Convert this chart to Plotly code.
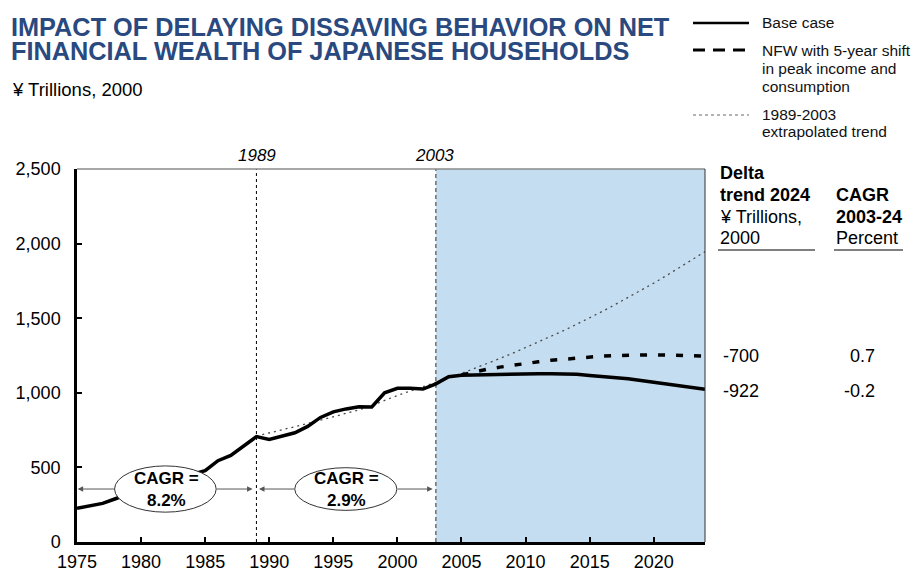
import plotly.graph_objects as go

# ---------------- data ----------------
base_years = list(range(1975, 2025))
base_values = [226, 243, 259, 290, 325, 355, 385, 410, 435, 455,
               478, 545, 580, 645, 706, 688, 708, 732, 775, 835,
               872, 892, 906, 905, 1000, 1030, 1030, 1025, 1060, 1108,
               1118, 1120, 1122, 1127, 1128, 1128, 1128, 1128, 1128, 1125,
               1116, 1110, 1104, 1094, 1082, 1070, 1058, 1046, 1036, 1024]

shift_years = list(range(2005, 2025))
shift_values = [1120, 1140, 1158, 1172, 1185, 1195, 1208, 1218, 1226, 1232,
                1240, 1246, 1250, 1253, 1254, 1254, 1253, 1251, 1248, 1246]

trend_years = list(range(1989, 2025))
trend_values = [710, 730, 750, 772, 794, 817, 840, 860, 885, 915,
                950, 982, 1012, 1040, 1068, 1100, 1130, 1162, 1196, 1230,
                1265, 1302, 1340, 1378, 1418, 1460, 1502, 1546, 1592, 1638,
                1686, 1735, 1786, 1838, 1892, 1946]

series_names = ["Base case",
                "NFW with 5-year shift in peak income and consumption",
                "1989-2003 extrapolated trend"]
legend_lines = [["Base case"],
                ["NFW with 5-year shift", "in peak income and", "consumption"],
                ["1989-2003", "extrapolated trend"]]

x_ticks = [1975, 1980, 1985, 1990, 1995, 2000, 2005, 2010, 2015, 2020]
y_ticks = [0, 500, 1000, 1500, 2000, 2500]

marker_years = [1989, 2003]
cagr_labels = ["8.2%", "2.9%"]
delta_2024 = ["-700", "-922"]
cagr_2003_24 = ["0.7", "-0.2"]

# ---------------- geometry helpers ----------------
W, H = 914, 571
L, R, T, B = 77, 705, 169, 542   # plot area in pixels


def px(x):
    return (x - L) / (R - L)


def py(y):
    return (B - y) / (B - T)


FONT = "Liberation Sans, Arial, Helvetica, sans-serif"
TITLE_COLOR = "#29497F"

fig = go.Figure()

fig.add_trace(go.Scatter(x=trend_years, y=trend_values, mode="lines",
                         name=series_names[2], hoverinfo="skip",
                         line=dict(color="#4a4a4a", width=1.3, dash="2px,4px")))
fig.add_trace(go.Scatter(x=shift_years, y=shift_values, mode="lines",
                         name=series_names[1], hoverinfo="skip",
                         line=dict(color="black", width=3.5, dash="7px,11px")))
fig.add_trace(go.Scatter(x=base_years, y=base_values, mode="lines",
                         name=series_names[0], hoverinfo="skip",
                         line=dict(color="black", width=3.5)))

shapes = []
# shaded projection region
shapes.append(dict(type="rect", xref="x", yref="y", x0=2003, x1=2024, y0=0, y1=2500,
                   fillcolor="#C4DDF0", line=dict(width=0), layer="below"))
# vertical markers
shapes.append(dict(type="line", xref="x", yref="y", x0=marker_years[0], x1=marker_years[0],
                   y0=0, y1=2500, line=dict(color="black", width=1, dash="3px,3px"),
                   layer="below"))
shapes.append(dict(type="line", xref="x", yref="y", x0=marker_years[1], x1=marker_years[1],
                   y0=0, y1=2500, line=dict(color="#777777", width=1.6, dash="4px,3px"),
                   layer="below"))
# frame top and right
shapes.append(dict(type="line", xref="paper", yref="paper", x0=0, x1=1, y0=1, y1=1,
                   line=dict(color="#8a8a8a", width=1.5), layer="above"))
shapes.append(dict(type="line", xref="paper", yref="paper", x0=1, x1=1, y0=0, y1=1,
                   line=dict(color="#333333", width=1), layer="above"))

# CAGR ellipses
ellipses = [(1977.93, 1985.86, 200, 510), (1991.99, 1999.96, 212, 498)]
for (x0, x1, y0, y1) in ellipses:
    shapes.append(dict(type="circle", xref="x", yref="y", x0=x0, x1=x1, y0=y0, y1=y1,
                       fillcolor="white", line=dict(color="#333333", width=1),
                       layer="above"))

# legend samples
leg_y = [23, 50, 115]
shapes.append(dict(type="line", xref="paper", yref="paper", x0=px(693), x1=px(749),
                   y0=py(leg_y[0]), y1=py(leg_y[0]), line=dict(color="black", width=2.5)))
shapes.append(dict(type="line", xref="paper", yref="paper", x0=px(693), x1=px(749),
                   y0=py(leg_y[1]), y1=py(leg_y[1]),
                   line=dict(color="black", width=3, dash="12px,8px")))
shapes.append(dict(type="line", xref="paper", yref="paper", x0=px(693), x1=px(749),
                   y0=py(leg_y[2]), y1=py(leg_y[2]),
                   line=dict(color="#666666", width=1, dash="3px,3px")))

# table underlines
shapes.append(dict(type="line", xref="paper", yref="paper", x0=px(718), x1=px(815),
                   y0=py(250), y1=py(250), line=dict(color="black", width=1)))
shapes.append(dict(type="line", xref="paper", yref="paper", x0=px(834), x1=px(903),
                   y0=py(250), y1=py(250), line=dict(color="black", width=1)))

annotations = []


def text(x, y, s, size, color="black", xanchor="left", bold=False, italic=False):
    if bold:
        s = "<b>" + s + "</b>"
    if italic:
        s = "<i>" + s + "</i>"
    annotations.append(dict(xref="paper", yref="paper", x=px(x), y=py(y), text=s,
                            showarrow=False, xanchor=xanchor, yanchor="middle",
                            font=dict(family=FONT, size=size, color=color)))


# title & subtitle
text(9, 27, "IMPACT OF DELAYING DISSAVING BEHAVIOR ON NET", 25.3, TITLE_COLOR, bold=True)
text(9, 51, "FINANCIAL WEALTH OF JAPANESE HOUSEHOLDS", 25.3, TITLE_COLOR, bold=True)
text(10, 89, "¥ Trillions, 2000", 18.5)

# legend texts
leg_text_y = [[23], [50, 68, 86], [115, 132]]
for lines, ys in zip(legend_lines, leg_text_y):
    for s, yy in zip(lines, ys):
        text(760, yy, s, 15.5, "#111111")

# marker year labels
text(256.5, 155, str(marker_years[0]), 17, xanchor="center", italic=True)
text(434.5, 155, str(marker_years[1]), 17, xanchor="center", italic=True)

# table header
text(718, 173, "Delta", 18, bold=True)
text(718, 195, "trend 2024", 18, bold=True)
text(718, 217, "¥ Trillions,", 18)
text(718, 238, "2000", 18)
text(834, 195, "CAGR", 18, bold=True)
text(834, 217, "2003-24", 18, bold=True)
text(834, 238, "Percent", 18)
for v, yy in zip(delta_2024, [355.5, 390.5]):
    text(721, yy, v, 18)
for v, yy in zip(cagr_2003_24, [355.5, 390.5]):
    text(877, yy, v, 18, xanchor="right")

# CAGR arrows (data coordinates)
arrow_y = 355
arrow_segments = [(1978.0, 1975.05), (1985.8, 1988.7), (1992.05, 1989.2), (1999.9, 2002.75)]
for tail, tip in arrow_segments:
    annotations.append(dict(xref="x", yref="y", axref="x", ayref="y",
                            x=tip, y=arrow_y, ax=tail, ay=arrow_y, text="",
                            showarrow=True, arrowhead=2, arrowsize=1.1,
                            arrowwidth=1, arrowcolor="#555555", standoff=0))

# CAGR texts in ellipses
for cx, lab in zip([1981.95, 1996.0], cagr_labels):
    annotations.append(dict(xref="x", yref="y", x=cx, y=352, showarrow=False,
                            text="<b>CAGR =</b><br><b>" + lab + "</b>",
                            xanchor="center", yanchor="middle",
                            font=dict(family=FONT, size=17, color="black")))

fig.update_layout(
    width=W, height=H,
    margin=dict(l=L, r=W - R, t=T, b=H - B, pad=0, autoexpand=False),
    paper_bgcolor="white", plot_bgcolor="white",
    showlegend=False,
    hovermode=False,
    shapes=shapes,
    annotations=annotations,
    font=dict(family=FONT, size=18, color="black"),
)
fig.update_xaxes(range=[1975, 2024], tickvals=x_ticks, ticktext=[str(v) for v in x_ticks],
                 showgrid=False, zeroline=False, showline=True, linecolor="black",
                 linewidth=2.5, ticks="inside", ticklen=5, tickwidth=1.5, tickcolor="black",
                 automargin=False,
                 tickfont=dict(family=FONT, size=18, color="black"), ticklabelstandoff=2)
fig.update_yaxes(range=[0, 2500], tickvals=y_ticks, tickformat=",d",
                 showgrid=False, zeroline=False, showline=True, linecolor="black",
                 linewidth=2.5, ticks="inside", ticklen=5, tickwidth=1.5, tickcolor="black",
                 automargin=False,
                 tickfont=dict(family=FONT, size=18, color="black"), ticklabelstandoff=10)

fig.write_html("out.html", config={"displayModeBar": False},
               post_script="document.body.style.margin='0';document.body.style.overflow='hidden';")
